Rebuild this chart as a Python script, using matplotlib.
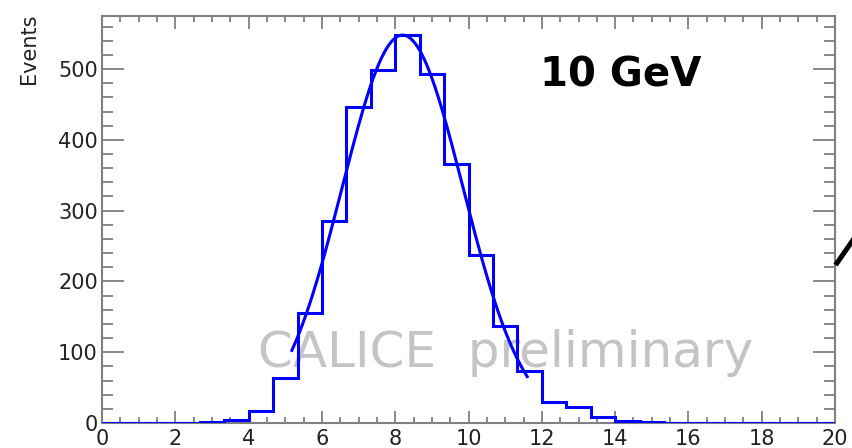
import numpy as np
import matplotlib
matplotlib.use('Agg')
import matplotlib.pyplot as plt
from matplotlib.lines import Line2D
from matplotlib.ticker import MultipleLocator

plt.rc('font', family='DejaVu Sans')

# histogram: 30 bins from 0 to 20
bin_edges = np.linspace(0, 20, 31)
counts = [0, 0, 0, 0, 1, 4, 17, 64, 155, 285,
          447, 498, 548, 493, 366, 237, 137, 73, 30, 22,
          9, 3, 1, 0, 0, 0, 0, 0, 0, 0]

# gaussian fit parameters
fit_amp = 548
fit_mean = 8.2
fit_sigma = 1.65
fit_lo, fit_hi = 5.18, 11.6

x_ticks = [0, 2, 4, 6, 8, 10, 12, 14, 16, 18, 20]
y_ticks = [0, 100, 200, 300, 400, 500]

fig = plt.figure(figsize=(8.53, 4.48), dpi=100)
ax = fig.add_axes([0.1196, 0.0558, 0.8594, 0.9085])

frame = '#808080'
blue = '#0000ff'

ax.stairs(counts, bin_edges, color=blue, linewidth=2.2, zorder=3)

xf = np.linspace(fit_lo, fit_hi, 200)
yf = fit_amp * np.exp(-(xf - fit_mean) ** 2 / (2 * fit_sigma ** 2))
ax.plot(xf, yf, color=blue, linewidth=2.2, zorder=4)

ax.set_xlim(0, 20)
ax.set_ylim(0, 575)
ax.set_xticks(x_ticks)
ax.set_yticks(y_ticks)
ax.xaxis.set_minor_locator(MultipleLocator(0.5))
ax.yaxis.set_minor_locator(MultipleLocator(20))

for s in ax.spines.values():
    s.set_color(frame)
    s.set_linewidth(1.5)

ax.tick_params(axis='both', which='both', direction='in', color=frame,
               width=1.3, top=True, right=True, labelcolor='#222222',
               labelsize=15)
ax.tick_params(axis='x', which='major', length=9, pad=4)
ax.tick_params(axis='x', which='minor', length=4.5)
ax.tick_params(axis='y', which='major', length=16, pad=3)
ax.tick_params(axis='y', which='minor', length=8)

fig.text(0.034, 0.969, 'Events', rotation=90, ha='center', va='top',
         fontsize=15, color='#222222')

ax.text(0.598, 0.826, '10 GeV', transform=ax.transAxes, ha='left',
        va='baseline', fontsize=29, fontweight='bold', color='black')

ax.text(0.213, 0.138, 'CALICE  preliminary', transform=ax.transAxes,
        ha='left', va='baseline', fontsize=36, color='#c4c4c4', zorder=1)

# fragment of an arrow at the right edge
fig.add_artist(Line2D([837 / 853, 1.0], [1 - 263 / 448, 1 - 240 / 448],
                      transform=fig.transFigure, color='black',
                      linewidth=3.6))

plt.savefig('out.png', dpi=100)
plt.close()
